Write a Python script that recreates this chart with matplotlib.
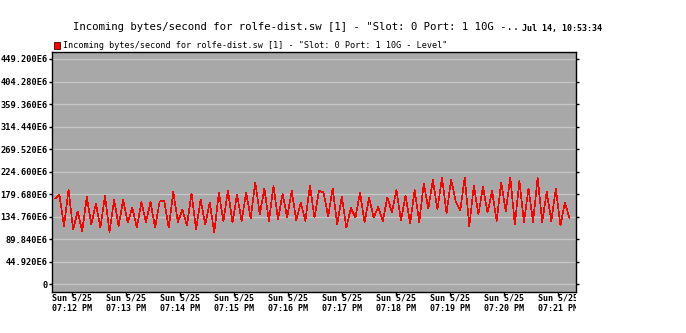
import matplotlib
matplotlib.use('Agg')
import matplotlib.pyplot as plt
from matplotlib.patches import Rectangle
from matplotlib.transforms import Bbox, TransformedBbox

# ---------------- data (values in units of 1E6 bytes/second) ----------------
values = [171, 178, 116, 189, 109, 145, 106, 174, 119, 161,
          113, 177, 104, 169, 116, 169, 123, 153, 113, 164,
          124, 164, 113, 165, 167, 113, 184, 124, 149, 117,
          181, 109, 169, 119, 163, 103, 183, 126, 187, 123,
          179, 126, 183, 131, 203, 139, 191, 126, 196, 129,
          181, 133, 186, 128, 163, 126, 197, 133, 187, 183,
          135, 191, 119, 175, 113, 152, 133, 183, 123, 173,
          133, 154, 126, 173, 144, 188, 127, 177, 121, 188,
          124, 201, 151, 208, 149, 213, 141, 209, 166, 147,
          213, 116, 197, 139, 194, 143, 186, 126, 203, 146,
          213, 119, 206, 124, 191, 124, 213, 124, 184, 126,
          191, 117, 163, 131]
first_sample_s = -19.0      # seconds relative to 07:12:00 PM
sample_interval_s = 5.06
times = [first_sample_s + sample_interval_s * i for i in range(len(values))]

xtick_seconds = [0, 60, 120, 180, 240, 300, 360, 420, 480, 540]
xtick_labels = ["Sun 5/25\n07:12 PM", "Sun 5/25\n07:13 PM", "Sun 5/25\n07:14 PM",
                "Sun 5/25\n07:15 PM", "Sun 5/25\n07:16 PM", "Sun 5/25\n07:17 PM",
                "Sun 5/25\n07:18 PM", "Sun 5/25\n07:19 PM", "Sun 5/25\n07:20 PM",
                "Sun 5/25\n07:21 PM"]
ytick_values = [0, 44.92, 89.84, 134.76, 179.68, 224.6, 269.52, 314.44, 359.36, 404.28, 449.2]
ytick_labels = ["0", "44.920E6", "89.840E6", "134.760E6", "179.680E6", "224.600E6",
                "269.520E6", "314.440E6", "359.360E6", "404.280E6", "449.200E6"]

title_text = 'Incoming bytes/second for rolfe-dist.sw [1] - "Slot: 0 Port: 1 10G -..'
date_text = 'Jul 14, 10:53:34'
legend_text = 'Incoming bytes/second for rolfe-dist.sw [1] - "Slot: 0 Port: 1 10G - Level"'

# ---------------- figure ----------------
W, H = 686, 333
mono = 'DejaVu Sans Mono'
fig = plt.figure(figsize=(W / 100, H / 100), dpi=100)
fig.patch.set_facecolor('white')

ax_l, ax_r, ax_t, ax_b = 52, 576, 51.7, 292
ax = fig.add_axes([ax_l / W, 1 - ax_b / H, (ax_r - ax_l) / W, (ax_b - ax_t) / H])
ax.set_facecolor('#a8a8a8')

ax.plot(times, values, color='#ff0000', lw=0.45, antialiased=False, zorder=3)

ax.set_xlim(-22.2, 560)
ax.set_ylim(-15.4, 463.7)

ax.set_yticks(ytick_values)
ax.set_yticklabels(ytick_labels, family=mono, fontsize=6.2, fontweight='bold')
ax.set_xticks(xtick_seconds)
ax.set_xticklabels(xtick_labels, family=mono, fontsize=6.0, fontweight='bold',
                   linespacing=1.25)

ax.yaxis.grid(True, color='#c6c6c6', lw=1.0)
ax.set_axisbelow(True)
for s in ax.spines.values():
    s.set_color('black')
    s.set_linewidth(1.0)

ax.tick_params(axis='y', which='both', left=True, right=True, length=2.2, width=1,
               direction='out', pad=0.8, color='black')
ax.tick_params(axis='x', which='both', bottom=True, top=False, length=3, width=1,
               direction='out', pad=-2.0, color='black')

# clip x tick labels at the right edge of the plot area
clip = TransformedBbox(Bbox([[0, 0], [ax_r / W, 1]]), fig.transFigure)
for lab in ax.get_xticklabels():
    lab.set_clip_box(clip)
    lab.set_clip_on(True)

# title + date stamp
fig.text(73 / W, 1 - 30.5 / H, title_text, family=mono, fontsize=7.65,
         va='baseline', ha='left')
fig.text(522 / W, 1 - 31.5 / H, date_text, family=mono, fontsize=6.0,
         fontweight='bold', va='baseline', ha='left')

# legend
fig.patches.append(Rectangle((54 / W, 1 - 48.5 / H), 6 / W, 6 / H,
                             transform=fig.transFigure, facecolor='#ff0000',
                             edgecolor='#400000', lw=0.6))
fig.text(63 / W, 1 - 47.5 / H, legend_text, family=mono, fontsize=6.1,
         va='baseline', ha='left')

fig.savefig('out.png', dpi=100)
